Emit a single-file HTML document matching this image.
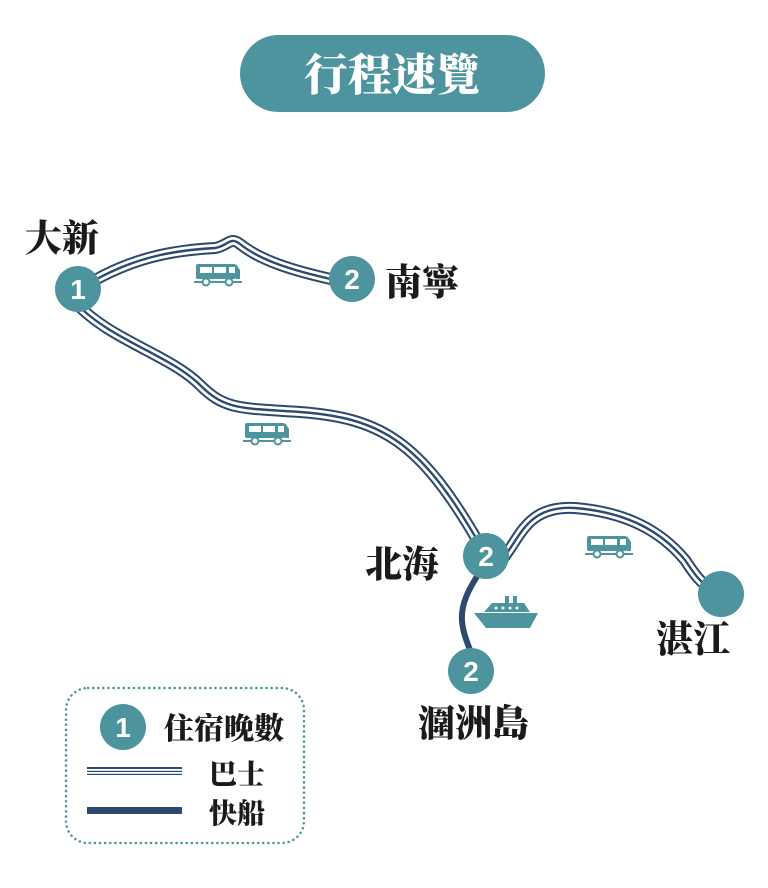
<!DOCTYPE html>
<html><head><meta charset="utf-8"><style>
body{margin:0;background:#fff;}
svg{display:block}
text{font-family:"Liberation Serif","Noto Serif CJK SC",serif;font-weight:900;fill:#1a1a1a}
.n{font-family:"Liberation Sans","Noto Sans CJK SC",sans-serif;font-weight:bold;fill:#fff;text-anchor:middle}
</style></head><body>
<svg width="768" height="888" viewBox="0 0 768 888" xmlns="http://www.w3.org/2000/svg">
<defs>
<g id="bus">
<rect x="-22" y="-9" width="40" height="15" rx="2" fill="#4e949e"/>
<path d="M18,-9 L22,-3 L22,6 L18,6Z" fill="#4e949e"/>
<rect x="-18" y="-6" width="12" height="6" fill="#fff"/>
<rect x="-4" y="-6" width="12" height="6" fill="#fff"/>
<rect x="11" y="-6" width="6" height="6" fill="#fff"/>
<rect x="-24" y="8" width="48" height="2" fill="#4e949e"/>
<circle cx="-12" cy="9" r="3.5" fill="#fff" stroke="#4e949e" stroke-width="2"/>
<circle cx="11" cy="9" r="3.5" fill="#fff" stroke="#4e949e" stroke-width="2"/>
</g>
</defs>
<rect x="240" y="35" width="305" height="77" rx="38.5" fill="#4e949e"/>
<text x="392" y="90" text-anchor="middle" font-size="44" style="fill:#fff">行程速覽</text>

<g fill="none" stroke-linecap="round" stroke-linejoin="round">
<g id="routes">
<path d="M95,280 C140,255 180,250 215,248 C228,246 230,236 240,244 C260,260 290,270 335,280"/>
<path d="M76,303 C110,340 170,355 200,385 C225,410 240,408 300,412 C380,418 420,440 480,545"/>
<path d="M500,562 C520,540 525,505 575,508 C625,512 660,530 685,560 C695,575 700,582 712,590"/>
</g>
</g>
<g fill="none" stroke-linecap="round" stroke-linejoin="round">
<use href="#routes" stroke="#2d4a6e" stroke-width="12"/>
<use href="#routes" stroke="#fff" stroke-width="8"/>
<use href="#routes" stroke="#2d4a6e" stroke-width="2.4"/>
</g>
<path d="M478,575 C455,610 460,625 472,655" fill="none" stroke="#2d4a6e" stroke-width="6" stroke-linecap="round"/>

<use href="#bus" x="218" y="273"/>
<use href="#bus" x="267" y="432"/>
<use href="#bus" x="609" y="545"/>
<g transform="translate(506,615)">
<path d="M-32,-2 L32,-2 L24,13 L-20,13 Z" fill="#4e949e"/>
<path d="M-22,-3 L-14,-12 L18,-12 L24,-3Z" fill="#4e949e"/>
<rect x="-1" y="-19" width="4" height="8" fill="#4e949e"/>
<rect x="7" y="-19" width="4" height="8" fill="#4e949e"/>
<circle cx="-10" cy="-7" r="1.5" fill="#fff"/><circle cx="-3" cy="-7" r="1.5" fill="#fff"/><circle cx="4" cy="-7" r="1.5" fill="#fff"/><circle cx="11" cy="-7" r="1.5" fill="#fff"/>
</g>

<g fill="#4e949e">
<circle cx="78" cy="289" r="23"/>
<circle cx="352" cy="279" r="23"/>
<circle cx="486" cy="556" r="23"/>
<circle cx="721" cy="594" r="23"/>
<circle cx="471" cy="671" r="23"/>
<circle cx="123" cy="727" r="23"/>
</g>
<g font-size="28">
<text class="n" x="78" y="299">1</text>
<text class="n" x="352" y="289">2</text>
<text class="n" x="486" y="566">2</text>
<text class="n" x="471" y="681">2</text>
<text class="n" x="123" y="737">1</text>
</g>
<g font-size="37">
<text x="25" y="251">大新</text>
<text x="385" y="295">南寧</text>
<text x="365" y="577">北海</text>
<text x="656" y="652">湛江</text>
<text x="418" y="736">潿洲島</text>
</g>

<rect x="66" y="688" width="238" height="155" rx="22" fill="none" stroke="#4e949e" stroke-width="2.5" stroke-dasharray="0.1 5" stroke-linecap="round"/>
<text x="164" y="739" font-size="30">住宿晚數</text>
<rect x="87" y="767" width="95" height="8" fill="#2d4a6e"/>
<rect x="87" y="769" width="95" height="1.8" fill="#fff"/>
<rect x="87" y="772" width="95" height="1.8" fill="#fff"/>
<text x="209" y="784" font-size="28">巴士</text>
<rect x="87" y="807" width="95" height="7" fill="#2d4a6e"/>
<text x="209" y="823" font-size="28">快船</text>
</svg>
</body></html>
